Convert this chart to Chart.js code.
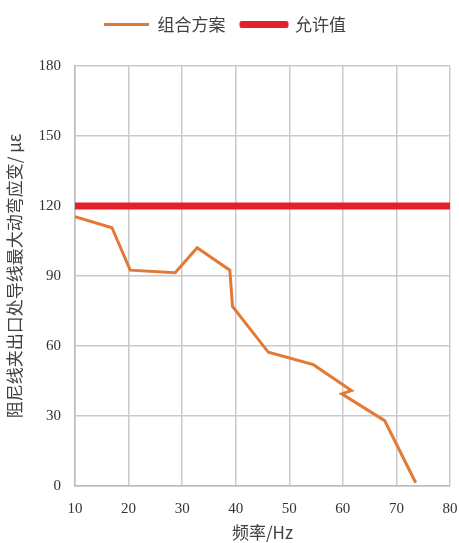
<!DOCTYPE html>
<html>
<head>
<meta charset="utf-8">
<script src="https://cdn.jsdelivr.net/npm/chart.js@4/dist/chart.umd.min.js"></script>
<style>
  html, body { margin: 0; padding: 0; background: #fff; }
  #wrap { width: 459px; height: 543px; }
</style>
</head>
<body>
<div id="wrap"><canvas id="grafico"></canvas></div>
<script>
// Dados
const frequencia = [10, 16.9, 20.3, 28.7, 32.8, 38.9, 39.4, 46.1, 54.5, 61.6, 59.8, 67.8, 73.6];
const deformacao = [115.4, 110.7, 92.5, 91.4, 102.1, 92.5, 77, 57.3, 52, 40.9, 39.5, 28, 1.4];
const limiteX = [10, 80];
const limiteY = [120, 120];
const nomesSeries = ['组合方案', '允许值'];
const xTicks = [10, 20, 30, 40, 50, 60, 70, 80];
const yTicks = [0, 30, 60, 90, 120, 150, 180];

const corLaranja = '#E27A36';
const corVermelho = '#E5202B';
const corGrade = '#cacaca';
const fonteCJK = '"Noto Sans CJK SC", sans-serif';
const fonteSerif = '"Liberation Serif", "DejaVu Serif", serif';

const pontos = frequencia.map((f, i) => ({ x: f, y: deformacao[i] }));
const linhaLimite = limiteX.map((f, i) => ({ x: f, y: limiteY[i] }));

// altura fixa da legenda para posicionar a área do gráfico
const legendaAltura = {
    id: 'legendaAltura',
    beforeInit(chart) {
        const fitOriginal = chart.legend.fit;
        chart.legend.fit = function () {
            fitOriginal.bind(chart.legend)();
            this.height = 66;
        };
    }
};

new Chart(document.getElementById('grafico'), {
    type: 'line',
    data: {
        datasets: [{
            label: nomesSeries[0],
            data: pontos,
            borderColor: corLaranja,
            backgroundColor: corLaranja,
            borderWidth: 3,
            pointRadius: 0,
            tension: 0,
            fill: false
        }, {
            label: nomesSeries[1],
            data: linhaLimite,
            borderColor: corVermelho,
            backgroundColor: corVermelho,
            borderWidth: 7,
            pointRadius: 0,
            fill: false
        }]
    },
    options: {
        responsive: true,
        maintainAspectRatio: false,
        animation: false,
        layout: { padding: { left: 0, right: 9, top: 0, bottom: 0 } },
        plugins: {
            legend: {
                position: 'top',
                labels: {
                    font: { family: fonteCJK, size: 17 },
                    color: '#404040',
                    boxWidth: 45,
                    boxHeight: 3,
                    padding: 16,
                    generateLabels: function(chart) {
                        return chart.data.datasets.map((ds, i) => ({
                            text: ds.label,
                            fillStyle: ds.borderColor,
                            strokeStyle: ds.borderColor,
                            lineWidth: i === 1 ? 4 : 0,
                            lineJoin: 'round',
                            fontColor: '#404040',
                            datasetIndex: i,
                            hidden: false
                        }));
                    }
                }
            },
            tooltip: { enabled: false }
        },
        scales: {
            x: {
                type: 'linear',
                min: 10,
                max: 80,
                afterBuildTicks: scale => { scale.ticks = xTicks.map(v => ({ value: v })); },
                afterFit: scale => {
                    scale.height = 57;
                    scale.paddingLeft = 0;
                    scale.paddingRight = 0;
                },
                grid: { color: corGrade, lineWidth: 1.5, drawTicks: false },
                border: { color: '#bdbdbd', width: 1.5 },
                ticks: {
                    padding: 14,
                    color: '#333',
                    font: { family: fonteSerif, size: 15 }
                },
                title: {
                    display: true,
                    text: '频率/Hz',
                    color: '#404040',
                    font: { family: fonteCJK, size: 17 },
                    padding: { top: 2, bottom: 0 }
                }
            },
            y: {
                min: 0,
                max: 180,
                afterBuildTicks: scale => { scale.ticks = yTicks.map(v => ({ value: v })); },
                afterFit: scale => { scale.width = 75; },
                grid: { color: corGrade, lineWidth: 1.5, drawTicks: false },
                border: { color: '#bdbdbd', width: 1.5 },
                ticks: {
                    padding: 14,
                    color: '#333',
                    font: { family: fonteSerif, size: 15 }
                },
                title: {
                    display: true,
                    text: '阻尼线夹出口处导线最大动弯应变/ με',
                    color: '#404040',
                    font: { family: fonteCJK, size: 17 },
                    padding: { top: 4, bottom: 0 }
                }
            }
        }
    },
    plugins: [legendaAltura]
});
</script>
</body>
</html>
